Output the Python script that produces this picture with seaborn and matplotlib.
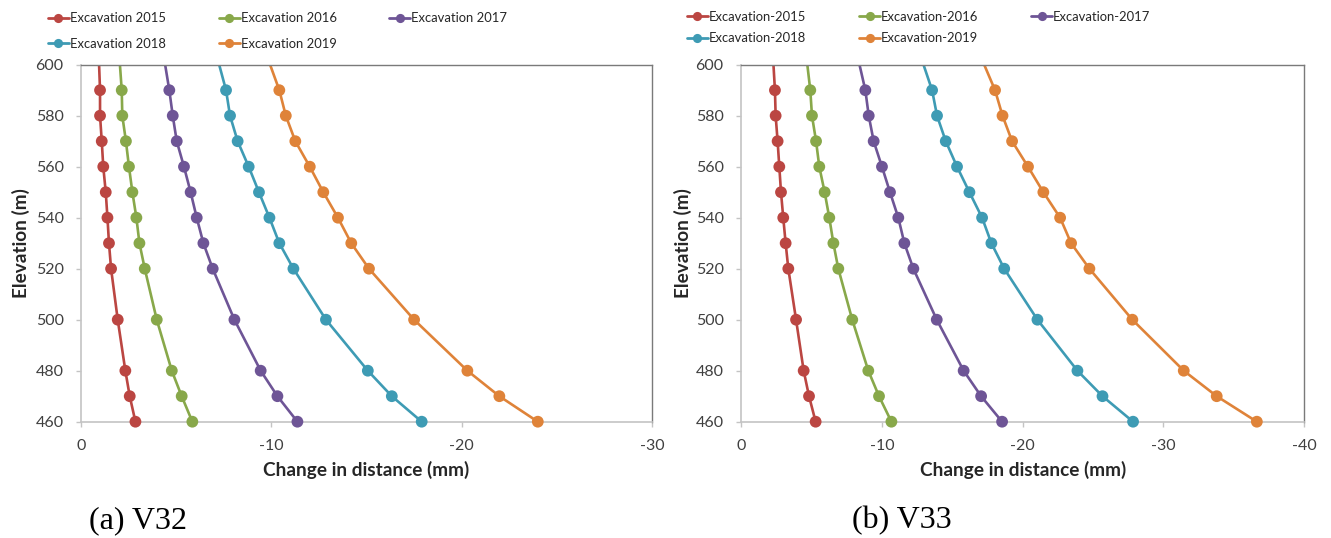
import matplotlib
matplotlib.use("Agg")
import matplotlib.pyplot as plt
from matplotlib.lines import Line2D
from matplotlib import font_manager
import pandas as pd
import seaborn as sns

# Elevation of each inclinometer reading (m); the top reading sits above the plotted range
elevation = [610, 590, 580, 570, 560, 550, 540, 530, 520, 500, 480, 470, 460]

# Borehole V32: change in distance (mm) per excavation year
v32_2015 = [-0.90, -1.00, -1.00, -1.09, -1.17, -1.30, -1.39, -1.47, -1.58, -1.93, -2.33, -2.56, -2.86]
v32_2016 = [-1.95, -2.14, -2.17, -2.36, -2.52, -2.70, -2.91, -3.07, -3.35, -3.98, -4.77, -5.29, -5.85]
v32_2017 = [-4.20, -4.64, -4.82, -5.03, -5.41, -5.76, -6.08, -6.43, -6.92, -8.06, -9.44, -10.32, -11.37]
v32_2018 = [-6.90, -7.62, -7.83, -8.23, -8.81, -9.35, -9.90, -10.42, -11.16, -12.87, -15.07, -16.33, -17.90]
v32_2019 = [-9.45, -10.42, -10.76, -11.26, -12.02, -12.73, -13.50, -14.20, -15.13, -17.50, -20.30, -21.98, -24.00]

# Borehole V33
v33_2015 = [-2.20, -2.41, -2.46, -2.60, -2.72, -2.84, -3.00, -3.17, -3.36, -3.91, -4.45, -4.83, -5.30]
v33_2016 = [-4.50, -4.92, -5.04, -5.33, -5.56, -5.94, -6.27, -6.56, -6.91, -7.90, -9.04, -9.80, -10.68]
v33_2017 = [-8.00, -8.83, -9.07, -9.42, -10.01, -10.58, -11.17, -11.60, -12.24, -13.90, -15.81, -17.05, -18.54]
v33_2018 = [-12.35, -13.57, -13.92, -14.54, -15.34, -16.22, -17.12, -17.78, -18.69, -21.05, -23.89, -25.67, -27.84]
v33_2019 = [-16.50, -18.04, -18.57, -19.25, -20.38, -21.47, -22.66, -23.44, -24.74, -27.79, -31.44, -33.78, -36.63]

years = ["2015", "2016", "2017", "2018", "2019"]
colors = ["#BB4642", "#88A84A", "#6E5596", "#3E9BB4", "#DF8339"]

x_ticks_a = [0, -10, -20, -30]
x_ticks_b = [0, -10, -20, -30, -40]
y_ticks = [460, 480, 500, 520, 540, 560, 580, 600]

sns.set_style("white")
plt.rcParams["font.family"] = ["Lato", "DejaVu Sans"]
plt.rcParams["axes.unicode_minus"] = False

installed = {f.name for f in font_manager.fontManager.ttflist}
if "Liberation Sans Narrow" in installed:
    legend_font = {"family": "Liberation Sans Narrow", "size": 10.8}
else:
    legend_font = {"family": "Lato", "size": 9.4}

W, H = 1331, 538
fig = plt.figure(figsize=(W / 100, H / 100), dpi=100)


def long_frame(series, sep):
    rows = []
    for yr, vals in zip(years, series):
        for e, v in zip(elevation, vals):
            rows.append({"elevation": e, "change": v, "series": f"Excavation{sep}{yr}"})
    return pd.DataFrame(rows)


def draw_panel(ax, series, sep, xlim, xticks, ylabel_x):
    df = long_frame(series, sep)
    names = [f"Excavation{sep}{yr}" for yr in years]
    pal = dict(zip(names, colors))
    # connecting lines, clipped to the plot area
    sns.lineplot(data=df, x="change", y="elevation", hue="series", hue_order=names,
                 palette=pal, sort=False, estimator=None, linewidth=1.9,
                 legend=False, ax=ax)
    # reading markers within the elevation range, drawn in full at the edges
    shown = df[df["elevation"] <= 600]
    sns.scatterplot(data=shown, x="change", y="elevation", hue="series", hue_order=names,
                    palette=pal, s=72, linewidth=0, legend=False, ax=ax,
                    clip_on=False, zorder=3)
    ax.set_xlim(*xlim)
    ax.set_ylim(460, 600)
    ax.set_xticks(xticks)
    ax.set_xticklabels([str(t) for t in xticks])
    ax.set_yticks(y_ticks)
    for s in ("left", "bottom"):
        ax.spines[s].set_color("#c4c4c4")
        ax.spines[s].set_linewidth(1.2)
    for s in ("top", "right"):
        ax.spines[s].set_color("#7a7a7a")
        ax.spines[s].set_linewidth(1.0)
    ax.tick_params(axis="both", direction="out", length=3.5, width=1.0, color="#c4c4c4",
                   labelcolor="#404040", labelsize=11.5, left=True, bottom=True)
    ax.tick_params(axis="x", pad=9)
    ax.tick_params(axis="y", pad=9)
    ax.set_xlabel("Change in distance (mm)", fontsize=13.7, fontweight="bold", va="center")
    ax.set_ylabel("Elevation (m)", fontsize=13.7, fontweight="bold", va="center")
    ax.xaxis.set_label_coords(0.5, (421.7 - 470) / 357)
    ax.yaxis.set_label_coords(ylabel_x, 0.5)
    return names


ax_a = fig.add_axes([81 / W, 1 - 421.7 / H, 571 / W, 357 / H])
ax_b = fig.add_axes([741 / W, 1 - 421.7 / H, 563.3 / W, 357 / H])

names_a = draw_panel(ax_a, [v32_2015, v32_2016, v32_2017, v32_2018, v32_2019], " ",
                     (0, -30), x_ticks_a, (21 - 81) / 571)
names_b = draw_panel(ax_b, [v33_2015, v33_2016, v33_2017, v33_2018, v33_2019], "-",
                     (0, -40), x_ticks_b, (683 - 741) / 563.3)


def legend_for(names, x_px, top_px, rowgap, colgap):
    handles = [Line2D([], [], color=c, lw=2.0, marker="o", markersize=6.6,
                      markeredgewidth=0) for c in colors]
    # row-major ordering across three columns
    order = [0, 3, 1, 4, 2]
    fig.legend([handles[i] for i in order], [names[i] for i in order], ncol=3,
               loc="upper left", bbox_to_anchor=(x_px / W, 1 - top_px / H),
               frameon=False, prop=legend_font, handlelength=1.6, handletextpad=0.08,
               columnspacing=colgap, labelspacing=rowgap, borderpad=0, borderaxespad=0,
               labelcolor="#262626")


legend_for(names_a, 48, 12.5, 1.0, 4.05)
legend_for(names_b, 687, 11.0, 0.7, 4.05)

fig.text(89 / W, 1 - 521 / H, "(a) V32", family="Liberation Serif", fontsize=23,
         ha="left", va="center", color="black")
fig.text(852 / W, 1 - 521 / H, "(b) V33", family="Liberation Serif", fontsize=23,
         ha="left", va="center", color="black")

fig.savefig("out.png", dpi=100)
